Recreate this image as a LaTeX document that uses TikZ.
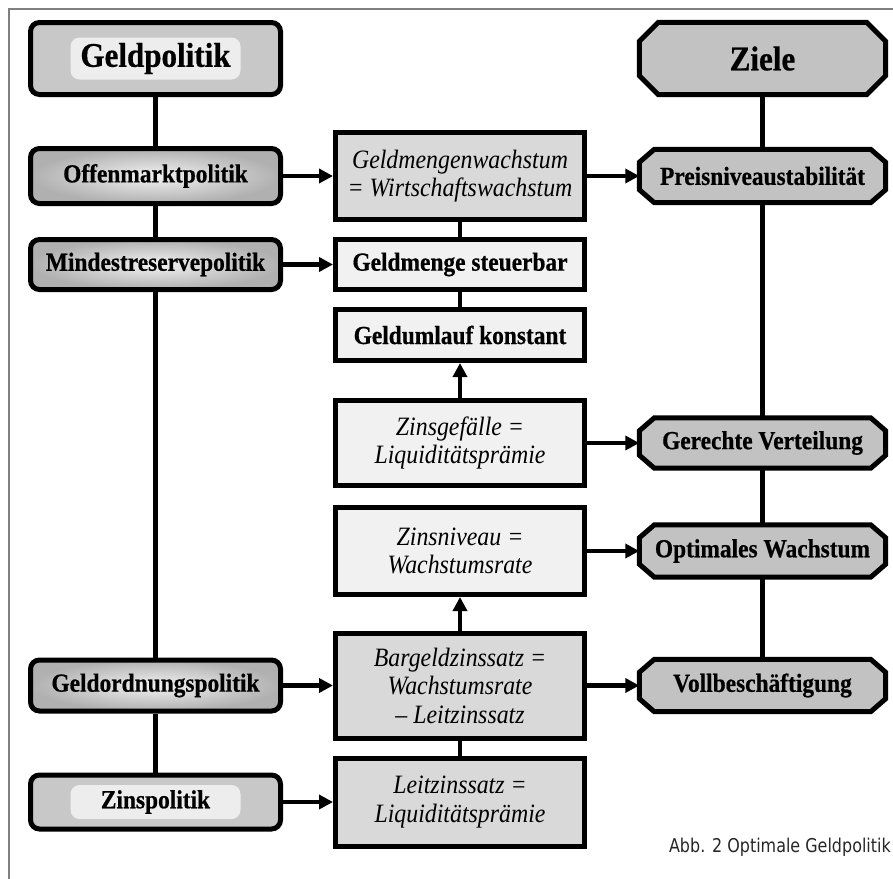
\documentclass[tikz,border=0pt]{standalone}
\usepackage{fontspec}
\setmainfont{Liberation Serif}
\newfontfamily\tallserif[FakeStretch=0.9, BoldFeatures={FakeBold=0.6}]{Liberation Serif}
\newfontfamily\capfont[FakeStretch=0.84]{DejaVu Sans}
\usetikzlibrary{arrows.meta,calc,backgrounds}
\definecolor{octfill}{HTML}{C2C2C2}
\definecolor{lightfill}{HTML}{F1F1F1}
\definecolor{midfill}{HTML}{D9D9D9}
\definecolor{panelout}{HTML}{C8C8C8}
\definecolor{panelin}{HTML}{EDEDED}
\newcommand\octagonshape[3]{%
  \filldraw[octline] ($(#1.north west)+(#2,0)$) -- ($(#1.north east)+(-#2,0)$)
    -- ($(#1.north east)+(0,#3)$) -- ($(#1.south east)+(0,-#3)$)
    -- ($(#1.south east)+(-#2,0)$) -- ($(#1.south west)+(#2,0)$)
    -- ($(#1.south west)+(0,-#3)$) -- ($(#1.north west)+(0,#3)$) -- cycle;}
\begin{document}
\begin{tikzpicture}[x=1pt,y=-1pt,
  every node/.style={inner sep=0pt, align=center},
  bfont/.style={font=\tallserif\fontsize{26}{29}\selectfont\bfseries},
  ifont/.style={font=\tallserif\fontsize{26.5}{28.5}\selectfont\itshape},
  lbox/.style={draw, line width=5pt, rounded corners=9pt, minimum width=250pt, bfont},
  gradbox/.style={lbox, inner color=gray!10, outer color=gray!62},
  panelbox/.style={lbox, fill=panelout, path picture={
      \fill[panelin] ([xshift=40pt,yshift=-#1]path picture bounding box.north west)
        rectangle ([xshift=-40pt,yshift=#1]path picture bounding box.south east);}},
  cbox/.style={draw, line width=5pt, minimum width=249pt},
  onode/.style={minimum width=246pt, bfont},
  octline/.style={draw, line width=5pt, fill=octfill, line join=miter},
  ln/.style={line width=4.5pt},
  arr/.style={line width=4.5pt, -{Triangle[length=14pt,width=14pt]}}
]
\useasboundingbox (0,0) rectangle (893,878);
\draw[gray, line width=2pt] (9,880) -- (9,9) -- (895,9);

% left column
\node[panelbox=15pt, minimum height=72pt, font=\tallserif\fontsize{34.5}{38}\selectfont\bfseries] (gp) at (155.5,58.5) {Geldpolitik};
\node[gradbox, minimum height=55pt] (om) at (155.5,176) {Offenmarktpolitik};
\node[gradbox, minimum height=50pt] (mr) at (155.5,264.5) {Mindestreservepolitik};
\node[gradbox, minimum height=51pt] (go) at (155.5,685.5) {Geldordnungspolitik};
\node[panelbox=10pt, minimum height=54pt] (zp) at (155.5,802) {Zinspolitik};

% center column
\node[cbox, fill=midfill, minimum height=87pt, ifont] (gw) at (460,176) {Geldmengenwachstum\\= Wirtschaftswachstum};
\node[cbox, fill=lightfill, minimum height=50pt, bfont] (gs) at (460,264.5) {Geldmenge steuerbar};
\node[cbox, fill=lightfill, minimum height=51pt, bfont] (gu) at (460,335) {Geldumlauf konstant};
\node[cbox, fill=lightfill, minimum height=85pt, ifont] (zg) at (460,443) {Zinsgefälle =\\Liquiditätsprämie};
\node[cbox, fill=lightfill, minimum height=87pt, ifont] (zn) at (460,551) {Zinsniveau =\\Wachstumsrate};
\node[cbox, fill=midfill, minimum height=105pt, ifont] (bz) at (460,685.5) {Bargeldzinssatz =\\Wachstumsrate\\– Leitzinssatz};
\node[cbox, fill=midfill, minimum height=88pt, ifont] (lz) at (460,802) {Leitzinssatz =\\Liquiditätsprämie};

% right column
\node[onode, minimum height=72pt, font=\tallserif\fontsize{34.5}{38}\selectfont\bfseries] (zi) at (762.5,58.5) {Ziele};
\node[onode, minimum height=53pt] (pn) at (762.5,176) {Preisniveaustabilität};
\node[onode, minimum height=50pt] (gv) at (762.5,443) {Gerechte Verteilung};
\node[onode, minimum height=52pt] (ow) at (762.5,551) {Optimales Wachstum};
\node[onode, minimum height=52pt] (vb) at (762.5,685.5) {Vollbeschäftigung};
\begin{scope}[on background layer]
  \octagonshape{zi}{19}{19}
  \octagonshape{pn}{15}{13}
  \octagonshape{gv}{15}{13}
  \octagonshape{ow}{15}{13}
  \octagonshape{vb}{15}{13}
\end{scope}

% caption
\node[anchor=east, font=\capfont\fontsize{19}{22}\selectfont, text=black!85] (cap) at (891,847) {Abb. 2 Optimale Geldpolitik};

% plain connectors
\draw[ln] (gp.south) -- (om.north);
\draw[ln] (om.south) -- (mr.north);
\draw[ln] (mr.south) -- (go.north);
\draw[ln] (go.south) -- (zp.north);
\draw[ln] (zi.south) -- (pn.north);
\draw[ln] (pn.south) -- (gv.north);
\draw[ln] (gv.south) -- (ow.north);
\draw[ln] (ow.south) -- (vb.north);
\draw[ln] (gw.south) -- (gs.north);
\draw[ln] (gs.south) -- (gu.north);
\draw[ln] (bz.south) -- (lz.north);

% arrows
\draw[arr] (zg.north) -- (gu.south);
\draw[arr] (bz.north) -- (zn.south);
\draw[arr] (om.east) -- (gw.west);
\draw[arr] (gw.east) -- (pn.west);
\draw[arr] (mr.east) -- (gs.west);
\draw[arr] (zg.east) -- (gv.west);
\draw[arr] (zn.east) -- (ow.west);
\draw[arr] (go.east) -- (bz.west);
\draw[arr] (bz.east) -- (vb.west);
\draw[arr] (zp.east) -- (lz.west);
\end{tikzpicture}
\end{document}
